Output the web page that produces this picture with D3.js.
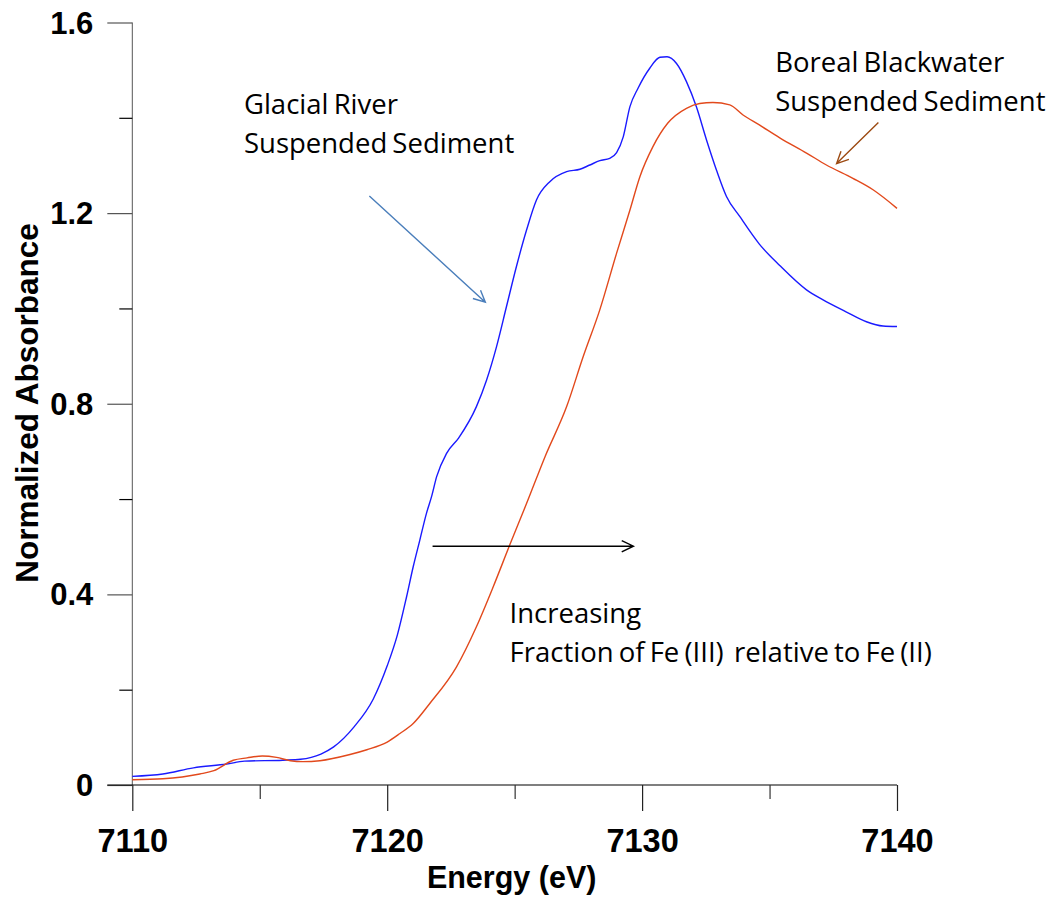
<!DOCTYPE html>
<html>
<head>
<meta charset="utf-8">
<script src="https://cdn.jsdelivr.net/npm/d3@7"></script>
<style>
  html, body { margin: 0; padding: 0; background: #fff; }
  svg { display: block; }
</style>
</head>
<body>
<svg id="chart" width="1055" height="901"></svg>
<script>
// ---------- data ----------
const xTickValues = [7110, 7120, 7130, 7140];
const xMinorTicks = [7115, 7125, 7135];
const yTickValues = [0, 0.4, 0.8, 1.2, 1.6];
const yMinorTicks = [0.2, 0.6, 1.0, 1.4];
const yTickLabels = ["0", "0.4", "0.8", "1.2", "1.6"];

const glacialEnergy = [7110.0, 7111.2, 7112.4, 7113.7, 7114.4, 7115.9, 7116.6, 7117.4, 7117.9, 7118.7,
  7119.45, 7120.0, 7120.4, 7120.76, 7121.02, 7121.28, 7121.54, 7121.74, 7121.94, 7122.33,
  7122.8, 7123.5, 7123.9, 7124.29, 7124.68, 7125.07, 7125.47, 7125.86, 7126.38, 7127.04,
  7127.56, 7127.95, 7128.34, 7128.73, 7129.0, 7129.26, 7129.52, 7129.84, 7130.3, 7130.7,
  7130.98, 7131.35, 7131.74, 7132.13, 7132.53, 7132.92, 7133.31, 7133.83, 7134.6, 7135.4,
  7136.45, 7137.1, 7138.0, 7138.8, 7139.45, 7140.0];
const glacialAbs = [0.018, 0.023, 0.036, 0.044, 0.050, 0.052, 0.054, 0.065, 0.080, 0.122,
  0.180, 0.250, 0.315, 0.395, 0.458, 0.514, 0.570, 0.605, 0.647, 0.696,
  0.728, 0.794, 0.850, 0.920, 1.004, 1.088, 1.165, 1.228, 1.266, 1.287,
  1.292, 1.301, 1.310, 1.315, 1.327, 1.360, 1.423, 1.462, 1.504, 1.527,
  1.528, 1.514, 1.476, 1.423, 1.353, 1.290, 1.235, 1.193, 1.135, 1.090,
  1.039, 1.018, 0.993, 0.972, 0.963, 0.962];

const borealEnergy = [7110.0, 7111.2, 7112.65, 7113.2, 7113.96, 7114.5, 7115.1, 7115.66, 7116.2, 7116.7,
  7117.36, 7118.54, 7119.2, 7120.0, 7120.5, 7121.02, 7121.67, 7122.72, 7123.5, 7124.16,
  7124.81, 7125.47, 7126.2, 7127.04, 7127.69, 7128.34, 7129.0, 7129.52, 7129.91, 7130.42,
  7131.01, 7131.74, 7132.26, 7132.78, 7133.44, 7133.96, 7134.6, 7135.4, 7136.45, 7137.23,
  7138.27, 7139.06, 7140.0];
const borealAbs = [0.011, 0.013, 0.023, 0.030, 0.052, 0.057, 0.061, 0.058, 0.051, 0.049,
  0.051, 0.064, 0.074, 0.090, 0.108, 0.129, 0.171, 0.248, 0.332, 0.416,
  0.504, 0.591, 0.690, 0.794, 0.899, 0.997, 1.116, 1.206, 1.276, 1.339,
  1.389, 1.420, 1.430, 1.432, 1.427, 1.406, 1.385, 1.358, 1.326, 1.301,
  1.273, 1.249, 1.210];

// annotation texts
const glacialLabel = ["Glacial River", "Suspended Sediment"];
const borealLabel = ["Boreal Blackwater", "Suspended Sediment"];
const shiftLabel = ["Increasing", "Fraction of Fe (III)  relative to Fe (II)"];

// ---------- layout ----------
const svg = d3.select("#chart");
const x = d3.scaleLinear().domain([7110, 7140]).range([132.3, 897]);
const y = d3.scaleLinear().domain([0, 1.6]).range([785, 22.5]);

const boldFont = "'Liberation Sans', Arial, sans-serif";
const noteFont = "'Open Sans', Lato, sans-serif";

// Y axis
const yAxisMajor = d3.axisLeft(y).tickValues(yTickValues).tickSize(25).tickPadding(14)
  .tickFormat((d, i) => yTickLabels[i]);
const yAxisMinor = d3.axisLeft(y).tickValues(yMinorTicks).tickSize(13).tickFormat("");
const gy = svg.append("g").attr("transform", `translate(${x(7110)},0)`).call(yAxisMajor);
svg.append("g").attr("transform", `translate(${x(7110)},0)`).call(yAxisMinor)
  .call(g => g.select(".domain").remove());
gy.select(".domain").attr("stroke", "#555").attr("d", `M0,${y(1.6)}V${y(0)}`);
gy.selectAll(".tick line").attr("stroke", "#555");
gy.selectAll(".tick text").attr("font-family", boldFont).attr("font-weight", "bold")
  .attr("font-size", 31).attr("fill", "#000").attr("dy", "0.34em");
svg.selectAll(".tick line").attr("stroke-width", 1.2);

// X axis
const xAxisMajor = d3.axisBottom(x).tickValues(xTickValues).tickSize(26).tickFormat(d3.format("d"));
const xAxisMinor = d3.axisBottom(x).tickValues(xMinorTicks).tickSize(14).tickFormat("");
const gx = svg.append("g").attr("transform", `translate(0,${y(0)})`).call(xAxisMajor);
const gxm = svg.append("g").attr("transform", `translate(0,${y(0)})`).call(xAxisMinor);
gxm.select(".domain").remove();
gxm.selectAll(".tick line").attr("stroke", "#333").attr("stroke-width", 1.2);
gx.select(".domain").attr("stroke", "#000").attr("stroke-width", 1.2).attr("d", `M${x(7110) - 25},0H${x(7140)}`);
gx.selectAll(".tick line").attr("stroke", "#222").attr("stroke-width", 1.2);
gx.selectAll(".tick text").attr("font-family", boldFont).attr("font-weight", "bold")
  .attr("font-size", 32.5).attr("fill", "#000").attr("y", 67).attr("dy", 0);

// Axis titles
svg.append("text").attr("x", (x(7110) + x(7140)) / 2 - 3).attr("y", 888)
  .attr("text-anchor", "middle").attr("font-family", boldFont).attr("font-weight", "bold")
  .attr("font-size", 30.5).text("Energy (eV)");
svg.append("text").attr("transform", `translate(38,403) rotate(-90)`)
  .attr("text-anchor", "middle").attr("font-family", boldFont).attr("font-weight", "bold")
  .attr("font-size", 31.5).text("Normalized Absorbance");

// Curves
const line = d3.line().curve(d3.curveMonotoneX);
svg.append("path")
  .attr("d", line(glacialEnergy.map((e, i) => [x(e), y(glacialAbs[i])])))
  .attr("fill", "none").attr("stroke", "#1a1aff").attr("stroke-width", 1.4);
svg.append("path")
  .attr("d", line(borealEnergy.map((e, i) => [x(e), y(borealAbs[i])])))
  .attr("fill", "none").attr("stroke", "#e2491c").attr("stroke-width", 1.4);

// Arrows (data coordinates)
const arrows = [
  { from: [7119.3, 1.236], to: [7123.85, 1.013], color: "#4a7ebb" },
  { from: [7139.27, 1.390], to: [7137.63, 1.304], color: "#9c4a12" },
  { from: [7121.78, 0.501], to: [7129.66, 0.501], color: "#000" }
];
arrows.forEach(a => {
  const x1 = x(a.from[0]), y1 = y(a.from[1]), x2 = x(a.to[0]), y2 = y(a.to[1]);
  const ang = Math.atan2(y2 - y1, x2 - x1);
  const L = 13, spread = 0.45;
  const p1 = [x2 - L * Math.cos(ang - spread), y2 - L * Math.sin(ang - spread)];
  const p2 = [x2 - L * Math.cos(ang + spread), y2 - L * Math.sin(ang + spread)];
  svg.append("path")
    .attr("d", `M${x1},${y1}L${x2},${y2}M${p1[0]},${p1[1]}L${x2},${y2}L${p2[0]},${p2[1]}`)
    .attr("fill", "none").attr("stroke", a.color).attr("stroke-width", 1.4);
});

// Notes
const notes = [
  { lines: glacialLabel, at: [7114.38, 1.408], lineGap: 39 },
  { lines: borealLabel, at: [7135.22, 1.496], lineGap: 38.5 },
  { lines: shiftLabel, at: [7124.80, 0.3406], lineGap: 39 }
];
notes.forEach(n => {
  n.lines.forEach((t, i) => {
    svg.append("text").attr("x", x(n.at[0])).attr("y", y(n.at[1]) + i * n.lineGap)
      .attr("font-family", noteFont).attr("font-size", 27.5).attr("fill", "#000")
      .attr("xml:space", "preserve").style("white-space", "pre")
      .attr("word-spacing", -2).text(t);
  });
});
</script>
</body>
</html>
